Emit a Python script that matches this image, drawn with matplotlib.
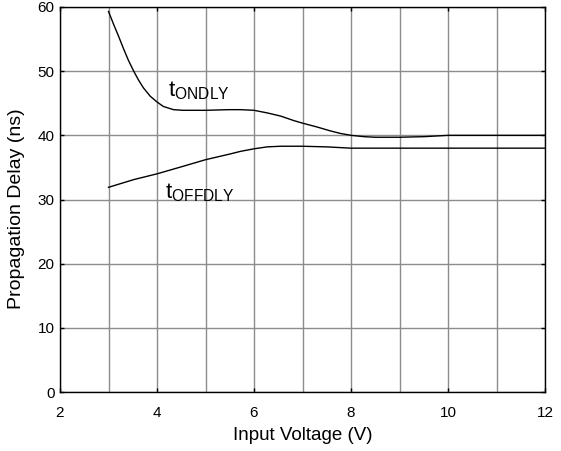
import matplotlib
matplotlib.use("Agg")
import matplotlib.pyplot as plt
from matplotlib.ticker import MultipleLocator

plt.rcParams['font.family'] = ['Liberation Sans', 'DejaVu Sans']
plt.rcParams['mathtext.fontset'] = 'custom'
plt.rcParams['mathtext.rm'] = 'Liberation Sans'

# t_ONDLY curve (V, ns)
on_x = [3.0, 3.10, 3.21, 3.31, 3.41, 3.52, 3.62, 3.72, 3.86, 4.0, 4.13, 4.34, 4.54,
        5.01, 5.47, 5.72, 6.0, 6.27, 6.55, 6.82, 7.0, 7.30, 7.57, 7.78, 8.0, 8.26,
        8.5, 9.0, 9.53, 10.0, 11.0, 12.0]
on_y = [59.3, 57.4, 55.4, 53.5, 51.7, 50.0, 48.6, 47.4, 46.1, 45.2, 44.5, 44.0, 43.9,
        43.9, 44.0, 44.0, 43.9, 43.5, 43.0, 42.3, 41.9, 41.3, 40.7, 40.3, 40.0, 39.8,
        39.7, 39.7, 39.8, 40.0, 40.0, 40.0]

# t_OFFDLY curve (V, ns)
off_x = [3.0, 3.52, 4.0, 4.55, 5.0, 5.51, 5.72, 6.0, 6.27, 6.55, 7.0, 7.5, 8.0,
         9.0, 10.0, 11.0, 12.0]
off_y = [31.9, 33.1, 34.0, 35.2, 36.2, 37.1, 37.5, 37.9, 38.2, 38.3, 38.3, 38.2, 38.0,
         38.0, 38.0, 38.0, 38.0]

x_ticks = [2, 4, 6, 8, 10, 12]
y_ticks = [0, 10, 20, 30, 40, 50, 60]

fig = plt.figure(figsize=(5.61, 4.51), dpi=100)
ax = fig.add_axes([60 / 561, 1 - 392 / 451, (545 - 60) / 561, (392 - 7) / 451])

ax.plot(on_x, on_y, color='black', lw=1.0)
ax.plot(off_x, off_y, color='black', lw=1.0)

ax.set_xlim(2, 12)
ax.set_ylim(0, 60)
ax.set_xticks(x_ticks)
ax.set_yticks(y_ticks)
ax.xaxis.set_minor_locator(MultipleLocator(1))
ax.grid(True, which='both', color='#8c8c8c', lw=1.0)
ax.set_axisbelow(True)
ax.tick_params(which='major', direction='in', length=3, width=1, top=True, right=True,
               labelsize=11, colors='black')
ax.tick_params(axis='x', which='major', pad=10)
ax.tick_params(axis='y', which='major', pad=4)
ax.tick_params(which='minor', length=0)
for s in ax.spines.values():
    s.set_color('black')
    s.set_linewidth(1.0)

ax.set_xlabel('Input Voltage (V)', fontsize=13.5, labelpad=5)
ax.set_ylabel('Propagation Delay (ns)', fontsize=14, labelpad=5)
ax.yaxis.set_label_coords(-0.072, 0.475)

ax.text(4.23, 46.0, r'$\mathregular{t_{ONDLY}}$', fontsize=16, ha='left', va='baseline')
ax.text(4.17, 30.2, r'$\mathregular{t_{OFFDLY}}$', fontsize=16, ha='left', va='baseline')

fig.savefig('out.png', dpi=100)
